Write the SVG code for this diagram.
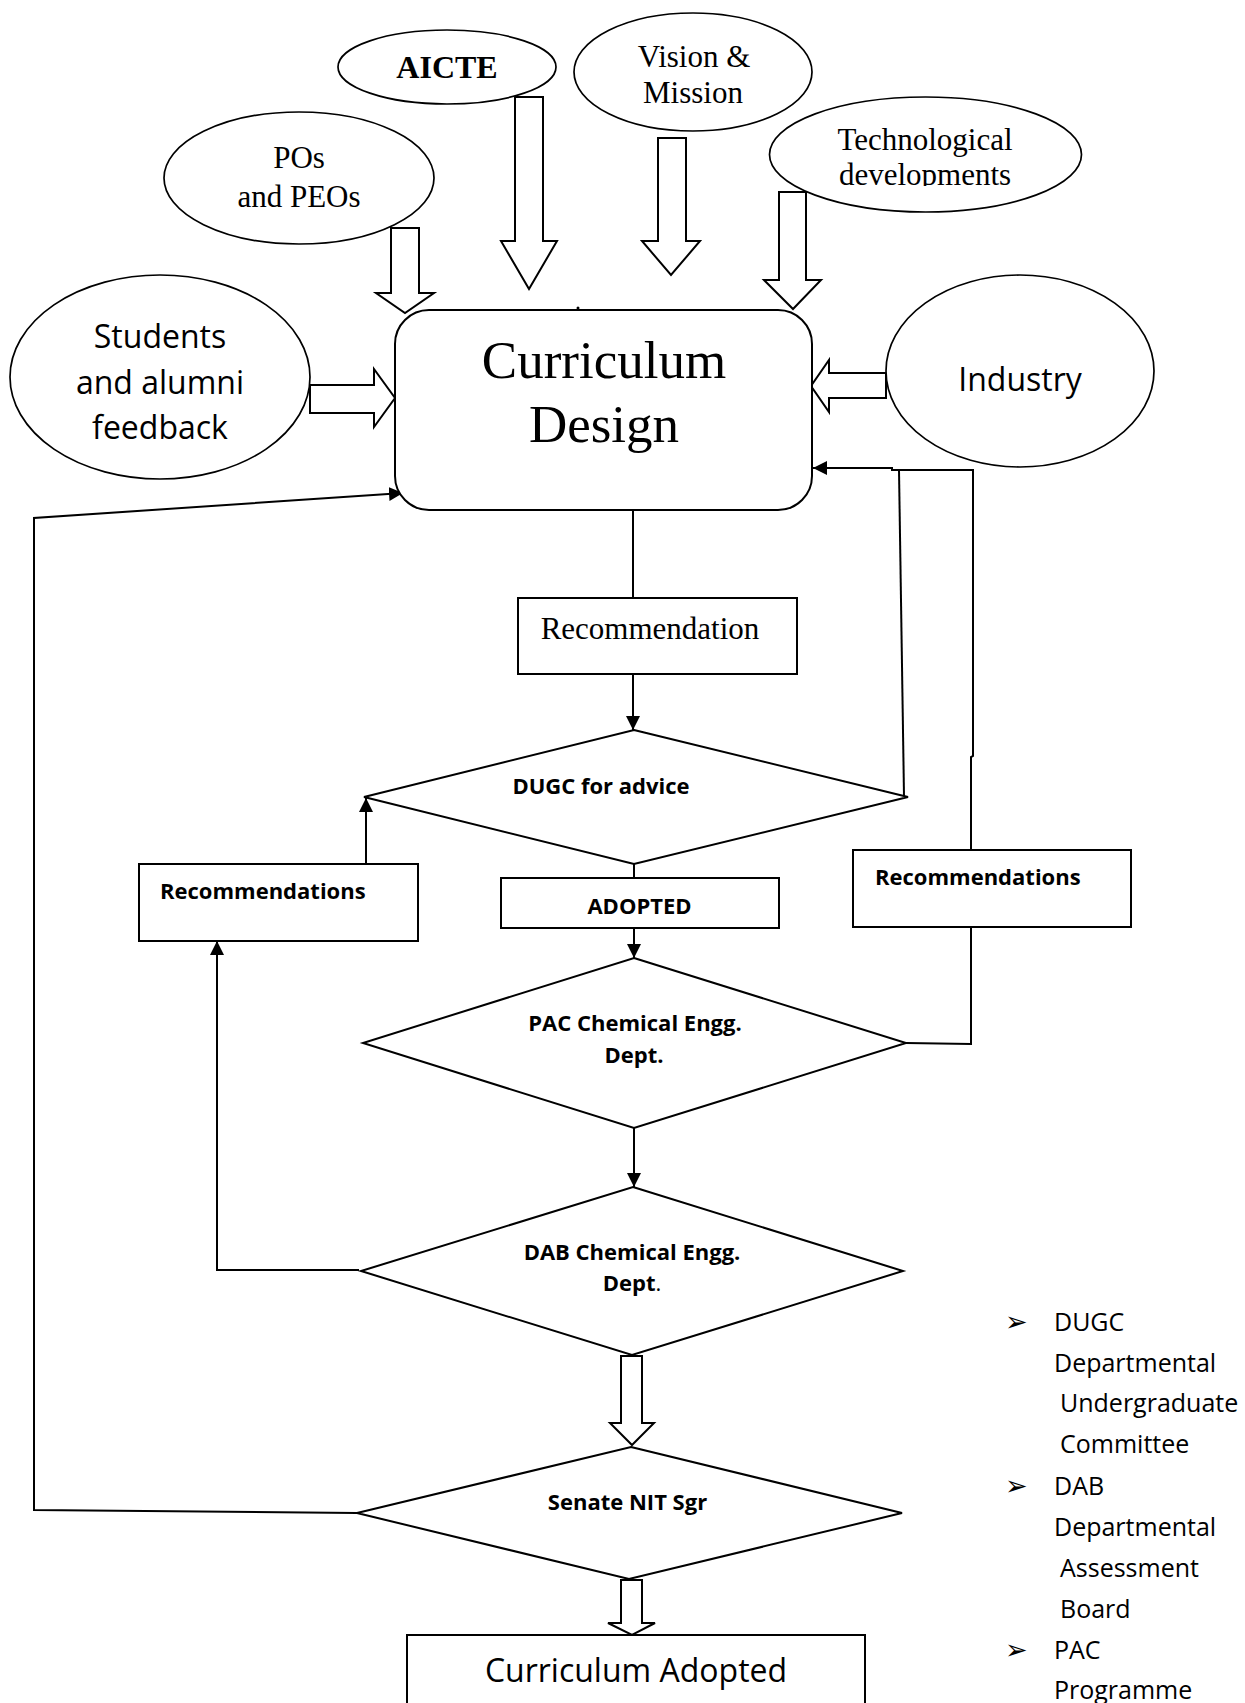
<svg xmlns="http://www.w3.org/2000/svg" width="1245" height="1703" viewBox="0 0 1245 1703">
<style>
.shape{fill:#fff;stroke:#000;stroke-width:2}
.ell{fill:#fff;stroke:#000;stroke-width:1.7}
.blk{fill:#fff;stroke:#000;stroke-width:2;stroke-linejoin:miter}
.ln{fill:none;stroke:#000;stroke-width:2}
.serif{font-family:"Liberation Serif","Times New Roman",serif;fill:#000}
.sans{font-family:"Open Sans","Liberation Sans",sans-serif;fill:#000}
.b{font-weight:bold}
.mid{text-anchor:middle}
.bul{font-family:"DejaVu Sans",sans-serif;font-size:27px;fill:#000}
</style>
<defs>
<marker id="ah" viewBox="0 0 10 10" refX="10" refY="5" markerWidth="7" markerHeight="7" markerUnits="strokeWidth" orient="auto">
<path d="M0,0 L10,5 L0,10 Z" fill="#000"/>
</marker>
<clipPath id="clipTech" clipPathUnits="userSpaceOnUse"><rect x="760" y="100" width="330" height="86"/></clipPath>
</defs>
<rect width="1245" height="1703" fill="#fff"/>

<g id="connectors">
<path class="blk" d="M515,97 L543,97 L543,241 L557,241 L529,289 L501,241 L515,241 Z"/>
<path class="blk" d="M391,228 L419,228 L419,293 L434,293 L405,313 L376,293 L391,293 Z"/>
<path class="blk" d="M658,138 L686,138 L686,241 L700,241 L671,275 L642,241 L658,241 Z"/>
<path class="blk" d="M779,192 L806,192 L806,280 L821,280 L793,309 L764,280 L779,280 Z"/>
<path class="blk" d="M310,385 L374,385 L374,369 L395,398 L374,427 L374,413 L310,413 Z"/>
<path class="blk" d="M886,373 L829,373 L829,360 L811,386 L829,412 L829,398 L886,398 Z"/>
<path class="blk" d="M621,1356 L642,1356 L642,1423 L654,1423 L632,1445 L610,1423 L621,1423 Z"/>
<path class="blk" d="M621,1580 L642,1580 L642,1623 L655,1623 L632,1635 L608,1623 L621,1623 Z"/>
<line class="ln" x1="633" y1="510" x2="633" y2="598"/>
<line class="ln" x1="633" y1="674" x2="633" y2="730" marker-end="url(#ah)"/>
<line class="ln" x1="634" y1="864" x2="634" y2="878"/>
<line class="ln" x1="634" y1="928" x2="634" y2="958" marker-end="url(#ah)"/>
<line class="ln" x1="634" y1="1128" x2="634" y2="1187" marker-end="url(#ah)"/>
<line class="ln" x1="366" y1="864" x2="366" y2="798" marker-end="url(#ah)"/>
<polyline class="ln" points="359,1270 217,1270 217,941" marker-end="url(#ah)"/>
<polyline class="ln" points="357,1513 34,1510 34,518 403,493" marker-end="url(#ah)"/>
<polyline class="ln" points="906,1043 971,1044 971,927"/>
<polyline class="ln" points="971,850 971,757 973,756 973,470 892,470 892,468 813,468" marker-end="url(#ah)"/>
<polyline class="ln" points="904,796 899,470"/>
<circle cx="578" cy="308" r="1.5" fill="#000"/>
</g>

<g id="node-aicte">
<ellipse class="ell" cx="447" cy="67" rx="109" ry="37"/>
<text class="serif b mid" x="447" y="78" font-size="32">AICTE</text>
</g>

<g id="node-pos">
<ellipse class="ell" cx="299" cy="178" rx="135" ry="66"/>
<text class="serif mid" x="299" y="168" font-size="31">POs</text>
<text class="serif mid" x="299" y="207" font-size="31">and PEOs</text>
</g>

<g id="node-vision">
<ellipse class="ell" cx="693" cy="72" rx="119" ry="59"/>
<text class="serif mid" x="694" y="67" font-size="31">Vision &amp;</text>
<text class="serif mid" x="693" y="103" font-size="31">Mission</text>
</g>

<g id="node-tech">
<ellipse class="ell" cx="925.5" cy="154.5" rx="156" ry="57.5"/>
<text class="serif mid" x="925" y="150" font-size="31">Technological</text>
<g clip-path="url(#clipTech)"><text class="serif mid" x="925" y="185" font-size="31">developments</text></g>
</g>

<g id="node-students">
<ellipse class="ell" cx="160" cy="377" rx="150" ry="102"/>
<text class="sans mid" x="160" y="348" font-size="32">Students</text>
<text class="sans mid" x="160" y="394" font-size="32">and alumni</text>
<text class="sans mid" x="160" y="439" font-size="32">feedback</text>
</g>

<g id="node-industry">
<ellipse class="ell" cx="1020" cy="371" rx="134" ry="96"/>
<text class="sans mid" x="1020" y="391" font-size="32">Industry</text>
</g>

<g id="node-curriculum-design">
<rect class="shape" x="395" y="310" width="417" height="200" rx="34" ry="34"/>
<text class="serif mid" x="604" y="378" font-size="53">Curriculum</text>
<text class="serif mid" x="604" y="442" font-size="53">Design</text>
</g>

<g id="node-recommendation">
<rect class="shape" x="518" y="598" width="279" height="76"/>
<text class="serif mid" x="650" y="639" font-size="31">Recommendation</text>
</g>

<g id="node-dugc">
<polygon class="shape" points="634,730 908,797 634,864 364,797"/>
<text class="sans b mid" x="601" y="794" font-size="22">DUGC for advice</text>
</g>

<g id="node-recommendations-left">
<rect class="shape" x="139" y="864" width="279" height="77"/>
<text class="sans b" x="160" y="899" font-size="22">Recommendations</text>
</g>

<g id="node-adopted">
<rect class="shape" x="501" y="878" width="278" height="50"/>
<text class="sans b mid" x="639.5" y="914" font-size="22">ADOPTED</text>
</g>

<g id="node-recommendations-right">
<rect class="shape" x="853" y="850" width="278" height="77"/>
<text class="sans b" x="875" y="885" font-size="22">Recommendations</text>
</g>

<g id="node-pac">
<polygon class="shape" points="634,958 906,1043 634,1128 363,1043"/>
<text class="sans b mid" x="635" y="1031" font-size="22">PAC Chemical Engg.</text>
<text class="sans b mid" x="634" y="1063" font-size="22">Dept.</text>
</g>

<g id="node-dab">
<polygon class="shape" points="633,1187 903,1271 632,1355 361,1271"/>
<text class="sans b mid" x="632" y="1260" font-size="22">DAB Chemical Engg.</text>
<text class="sans mid" x="632" y="1291" font-size="22"><tspan font-weight="bold">Dept</tspan>.</text>
</g>

<g id="node-senate">
<polygon class="shape" points="631,1447 902,1513 629,1579 357,1513"/>
<text class="sans b mid" x="627.5" y="1510" font-size="22">Senate NIT Sgr</text>
</g>

<g id="node-curriculum-adopted">
<rect class="shape" x="407" y="1635" width="458" height="90"/>
<text class="sans mid" x="636" y="1682" font-size="32">Curriculum Adopted</text>
</g>

<g id="legend" font-size="25">
<text class="bul" x="1005" y="1331">➢</text>
<text class="sans" x="1054" y="1331">DUGC</text>
<text class="sans" x="1054" y="1372">Departmental</text>
<text class="sans" x="1060" y="1412">Undergraduate</text>
<text class="sans" x="1060" y="1453">Committee</text>
<text class="bul" x="1005" y="1495">➢</text>
<text class="sans" x="1054" y="1495">DAB</text>
<text class="sans" x="1054" y="1536">Departmental</text>
<text class="sans" x="1060" y="1577">Assessment</text>
<text class="sans" x="1060" y="1618">Board</text>
<text class="bul" x="1005" y="1659">➢</text>
<text class="sans" x="1054" y="1659">PAC</text>
<text class="sans" x="1054" y="1699">Programme</text>
</g>
</svg>
